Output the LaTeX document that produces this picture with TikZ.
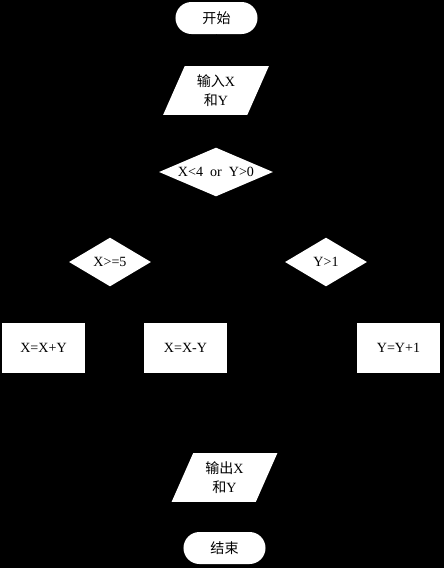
\documentclass[tikz,border=0pt]{standalone}
\usepackage{fontspec}
\setmainfont{Liberation Serif}
\newfontfamily\cjk{Noto Sans CJK SC}
\usetikzlibrary{shapes.geometric,arrows.meta}

\begin{document}
\begin{tikzpicture}[
	x=0.025cm, y=-0.025cm,
	font=\fontsize{10}{14}\selectfont,
	terminal/.style={
		fill=white,
		rounded corners=0.4cm,
		minimum width=2.05cm,
		minimum height=0.8cm,
		inner sep=0pt,
		align=center
	},
	io/.style={
		trapezium,
		trapezium left angle=68,
		trapezium right angle=112,
		trapezium stretches=true,
		fill=white,
		minimum width=2.65cm,
		minimum height=1.22cm,
		inner sep=0pt,
		align=center
	},
	decision/.style={
		diamond,
		aspect=2.3,
		fill=white,
		minimum height=1.22cm,
		inner sep=0pt,
		align=center
	},
	process/.style={
		rectangle,
		fill=white,
		minimum width=2.07cm,
		minimum height=1.25cm,
		inner sep=0pt,
		align=center
	},
	flow/.style={draw=black, -{Latex[length=2mm]}}
	]
	
	% background
	\fill[black] (0,0) rectangle (444,568);
	
	\node[terminal] (start) at (216.5,18) {{\cjk 开始}};
	\node[io] (input) at (216,90.5) {{\cjk 输入}X\\{\cjk 和}Y};
	\node[decision, minimum width=2.85cm] (cond) at (216,172) {X<4\ \ or\ \ Y>0};
	\node[decision, minimum width=2.05cm] (checkx) at (110,262) {X>=5};
	\node[decision, minimum width=2.05cm] (checky) at (326,262) {Y>1};
	\node[process] (addxy) at (43.5,348) {X=X+Y};
	\node[process] (subxy) at (185.5,348) {X=X-Y};
	\node[process] (incy) at (398.5,348) {Y=Y+1};
	\node[io] (output) at (224.5,477.5) {{\cjk 输出}X\\{\cjk 和}Y};
	\node[terminal] (stop) at (224.5,548) {{\cjk 结束}};
	
	\coordinate (merge) at (224.5,425);
	
	\draw[flow] (start) -- (input);
	\draw[flow] (input) -- (cond);
	\draw[flow] (cond.west) -| (checkx);
	\draw[flow] (cond.east) -| (checky);
	\draw[flow] (checkx.west) -| (addxy);
	\draw[flow] (checkx.east) -| (subxy);
	\draw[flow] (checky.east) -| (incy);
	\draw[draw=black] (addxy) |- (merge);
	\draw[draw=black] (subxy) |- (merge);
	\draw[draw=black] (incy) |- (merge);
	\draw[draw=black] (checky) |- (merge);
	\draw[flow] (merge) -- (output);
	\draw[flow] (output) -- (stop);
\end{tikzpicture}
\end{document}
